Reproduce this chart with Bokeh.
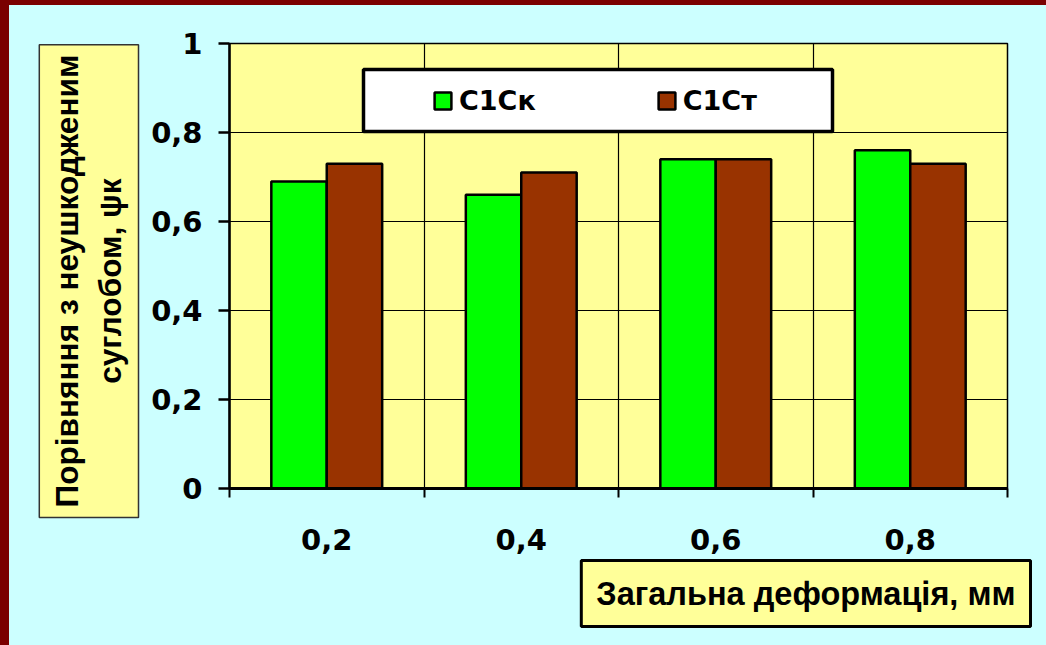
from bokeh.plotting import figure
from bokeh.models import (Range1d, FixedTicker, LinearAxis, Title, Legend, LegendItem, Grid,
                          BoxAnnotation, CustomJSTickFormatter, ColumnDataSource,
                          GlobalInlineStyleSheet)
from bokeh.embed import file_html
from bokeh.resources import INLINE

categories = ["0,2", "0,4", "0,6", "0,8"]
s1_name = "С1Ск"
s2_name = "С1Ст"
s1_values = [0.69, 0.66, 0.74, 0.76]
s2_values = [0.73, 0.71, 0.74, 0.73]
y_ticks = [0, 0.2, 0.4, 0.6, 0.8, 1.0]
x_title = "Загальна деформація, мм"
y_title = "Порівняння з неушкодженим\nсуглобом, ψк"

BG = "#ccffff"
PLOT_BG = "#ffff99"
GREEN = "#00ff00"
BROWN = "#993300"
FRAME_RED = "#7a0000"
FONT = "DejaVu Sans"
TFONT = "Liberation Sans"

n = len(categories)
pos = [i + 1 for i in range(n)]
bw = 0.285
src1 = ColumnDataSource(dict(l=[c - bw for c in pos], r=list(pos), v=s1_values))
src2 = ColumnDataSource(dict(l=list(pos), r=[c + bw for c in pos], v=s2_values))

p = figure(width=1037, height=640, output_backend="svg", toolbar_location=None,
           x_range=Range1d(0.5, n + 0.5), y_range=Range1d(0, 1),
           x_axis_type=None, y_axis_type=None,
           min_border_left=220, min_border_right=39, min_border_top=38, min_border_bottom=157)
p.background_fill_color = PLOT_BG
p.border_fill_color = BG
p.outline_line_color = "black"
p.outline_line_width = 1.5
p.stylesheets = [GlobalInlineStyleSheet(css=(
    "html, body{padding:0 !important; margin:0 !important;}"
    "body{padding:5px 0 0 9px !important;"
    f" background: linear-gradient({FRAME_RED},{FRAME_RED}) left top / 9px 100% no-repeat,"
    f" linear-gradient({FRAME_RED},{FRAME_RED}) left top / 100% 5px no-repeat, {BG} !important;}}"))]

# x axis: labels at category centres, ticks at category boundaries
xaxis = LinearAxis(ticker=FixedTicker(ticks=pos, minor_ticks=[i + 0.5 for i in range(n + 1)]),
                   major_label_overrides={pos[i]: categories[i] for i in range(n)})
xaxis.axis_line_width = 3
xaxis.axis_line_color = "black"
xaxis.major_tick_line_color = None
xaxis.major_tick_out = 0
xaxis.major_tick_in = 0
xaxis.minor_tick_line_width = 2
xaxis.minor_tick_line_color = "black"
xaxis.minor_tick_out = 9
xaxis.minor_tick_in = 0
xaxis.major_label_text_font = FONT
xaxis.major_label_text_font_style = "bold"
xaxis.major_label_text_font_size = "29px"
xaxis.major_label_text_color = "black"
xaxis.major_label_standoff = 31
p.add_layout(xaxis, "below")

yaxis = LinearAxis(ticker=FixedTicker(ticks=y_ticks),
                   formatter=CustomJSTickFormatter(
                       code="return (Math.round(tick*10)/10).toString().replace('.', ',');"))
yaxis.axis_line_width = 2.5
yaxis.axis_line_color = "black"
yaxis.major_tick_line_width = 2.5
yaxis.major_tick_line_color = "black"
yaxis.major_tick_out = 11
yaxis.major_tick_in = 0
yaxis.minor_tick_line_color = None
yaxis.major_label_text_font = FONT
yaxis.major_label_text_font_style = "bold"
yaxis.major_label_text_font_size = "29px"
yaxis.major_label_text_color = "black"
yaxis.major_label_standoff = 16
p.add_layout(yaxis, "left")

p.add_layout(Grid(dimension=0, ticker=xaxis.ticker, grid_line_color=None,
                  minor_grid_line_color="black", minor_grid_line_width=1.2))
p.add_layout(Grid(dimension=1, ticker=yaxis.ticker, grid_line_color="black",
                  grid_line_width=1.2))

r1 = p.quad(left="l", right="r", bottom=0, top="v", source=src1, fill_color=GREEN,
            line_color="black", line_width=2.5)
r2 = p.quad(left="l", right="r", bottom=0, top="v", source=src2, fill_color=BROWN,
            line_color="black", line_width=2.5)

# legend box and legend
p.add_layout(BoxAnnotation(left=134, right=603, top=419, bottom=357,
                           left_units="screen", right_units="screen",
                           top_units="screen", bottom_units="screen",
                           fill_color="white", fill_alpha=1, line_color="black",
                           line_alpha=1, line_width=3.5))
legend = Legend(items=[LegendItem(label=s1_name, renderers=[r1]),
                       LegendItem(label=s2_name, renderers=[r2])],
                orientation="horizontal", location=(203, 372),
                padding=0, margin=0, spacing=120, label_standoff=6,
                glyph_width=21, glyph_height=21,
                border_line_alpha=0, background_fill_alpha=0,
                label_text_font=FONT, label_text_font_style="bold",
                label_text_font_size="27px", label_text_color="black")
p.add_layout(legend, "center")

# axis titles as boxed titles in the side panels
p.add_layout(Title(text=x_title, align="right", offset=-23, vertical_align="top",
                   standoff=16, padding=15,
                   text_font=TFONT, text_font_style="bold", text_font_size="32.5px",
                   text_color="black", background_fill_color=PLOT_BG,
                   border_line_color="black", border_line_width=3), "below")
p.add_layout(Title(text=y_title, align="left", offset=-29, vertical_align="bottom",
                   standoff=20, padding=10, text_align="center", text_line_height=1.2,
                   text_font=TFONT, text_font_style="bold", text_font_size="31.6px",
                   text_color="black", background_fill_color=PLOT_BG,
                   border_line_color="#333333", border_line_width=1.5), "left")

open("out.html", "w").write(file_html(p, INLINE))
